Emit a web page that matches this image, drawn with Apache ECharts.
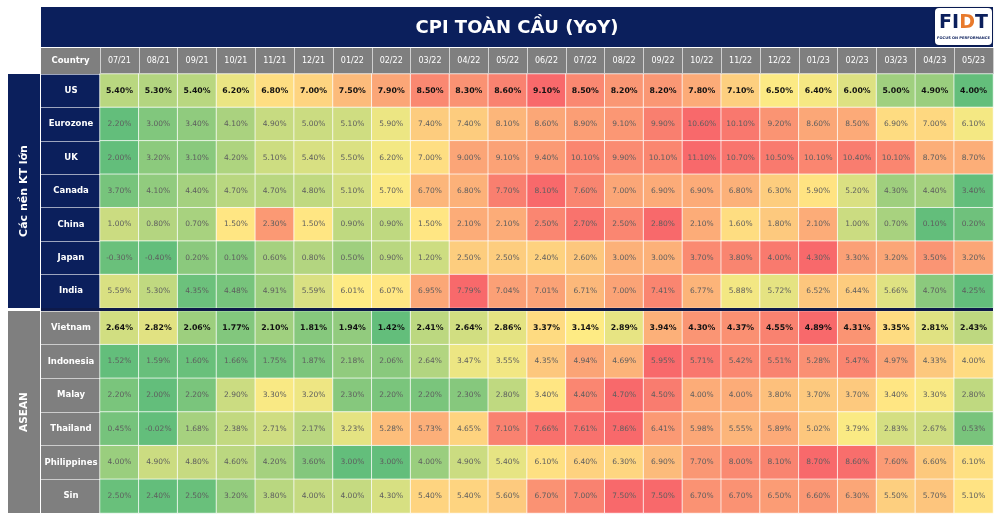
<!DOCTYPE html>
<html>
<head>
<meta charset="utf-8">
<script src="https://cdn.jsdelivr.net/npm/echarts@6/dist/echarts.min.js"></script>
<style>
html,body{margin:0;padding:0;background:#fff;}
#chart{width:1000px;height:521px;}
</style>
</head>
<body>
<div id="chart"></div>
<script>
const months = ['07/21','08/21','09/21','10/21','11/21','12/21','01/22','02/22','03/22','04/22','05/22','06/22','07/22','08/22','09/22','10/22','11/22','12/22','01/23','02/23','03/23','04/23','05/23'];

const majorCountries = ['US','Eurozone','UK','Canada','China','Japan','India'];
const aseanCountries = ['Vietnam','Indonesia','Malay','Thailand','Philippines','Sin'];

const us        = [5.40,5.30,5.40,6.20,6.80,7.00,7.50,7.90,8.50,8.30,8.60,9.10,8.50,8.20,8.20,7.80,7.10,6.50,6.40,6.00,5.00,4.90,4.00];
const eurozone  = [2.20,3.00,3.40,4.10,4.90,5.00,5.10,5.90,7.40,7.40,8.10,8.60,8.90,9.10,9.90,10.60,10.10,9.20,8.60,8.50,6.90,7.00,6.10];
const uk        = [2.00,3.20,3.10,4.20,5.10,5.40,5.50,6.20,7.00,9.00,9.10,9.40,10.10,9.90,10.10,11.10,10.70,10.50,10.10,10.40,10.10,8.70,8.70];
const canada    = [3.70,4.10,4.40,4.70,4.70,4.80,5.10,5.70,6.70,6.80,7.70,8.10,7.60,7.00,6.90,6.90,6.80,6.30,5.90,5.20,4.30,4.40,3.40];
const china     = [1.00,0.80,0.70,1.50,2.30,1.50,0.90,0.90,1.50,2.10,2.10,2.50,2.70,2.50,2.80,2.10,1.60,1.80,2.10,1.00,0.70,0.10,0.20];
const japan     = [-0.30,-0.40,0.20,0.10,0.60,0.80,0.50,0.90,1.20,2.50,2.50,2.40,2.60,3.00,3.00,3.70,3.80,4.00,4.30,3.30,3.20,3.50,3.20];
const india     = [5.59,5.30,4.35,4.48,4.91,5.59,6.01,6.07,6.95,7.79,7.04,7.01,6.71,7.00,7.41,6.77,5.88,5.72,6.52,6.44,5.66,4.70,4.25];

const vietnam     = [2.64,2.82,2.06,1.77,2.10,1.81,1.94,1.42,2.41,2.64,2.86,3.37,3.14,2.89,3.94,4.30,4.37,4.55,4.89,4.31,3.35,2.81,2.43];
const indonesia   = [1.52,1.59,1.60,1.66,1.75,1.87,2.18,2.06,2.64,3.47,3.55,4.35,4.94,4.69,5.95,5.71,5.42,5.51,5.28,5.47,4.97,4.33,4.00];
const malay       = [2.20,2.00,2.20,2.90,3.30,3.20,2.30,2.20,2.20,2.30,2.80,3.40,4.40,4.70,4.50,4.00,4.00,3.80,3.70,3.70,3.40,3.30,2.80];
const thailand    = [0.45,-0.02,1.68,2.38,2.71,2.17,3.23,5.28,5.73,4.65,7.10,7.66,7.61,7.86,6.41,5.98,5.55,5.89,5.02,3.79,2.83,2.67,0.53];
const philippines = [4.00,4.90,4.80,4.60,4.20,3.60,3.00,3.00,4.00,4.90,5.40,6.10,6.40,6.30,6.90,7.70,8.00,8.10,8.70,8.60,7.60,6.60,6.10];
const sin         = [2.50,2.40,2.50,3.20,3.80,4.00,4.00,4.30,5.40,5.40,5.60,6.70,7.00,7.50,7.50,6.70,6.70,6.50,6.60,6.30,5.50,5.70,5.10];

const majorRows = [us, eurozone, uk, canada, china, japan, india];
const aseanRows = [vietnam, indonesia, malay, thailand, philippines, sin];

const NAVY = '#0b1f5c';
const GRAY = '#7f7f7f';
const FONT = 'DejaVu Sans';

const boldLabel = {fontWeight:'bold', color:'#111', fontSize:7.8};
const normLabel = {fontWeight:'normal', color:'#5e5e5e', fontSize:7.5};

function buildData(rows){
  const out = [];
  rows.forEach((row, r) => {
    const mn = Math.min(...row), mx = Math.max(...row);
    row.forEach((v, c) => {
      out.push({value:[c, r, (v - mn) / (mx - mn), v], label: r === 0 ? boldLabel : normLabel});
    });
  });
  return out;
}

const chart = echarts.init(document.getElementById('chart'), null, {renderer:'canvas'});

const seriesBase = {
  type:'heatmap',
  label:{show:true, fontFamily:FONT, formatter: p => p.value[3].toFixed(2) + '%'},
  itemStyle:{borderColor:'rgba(255,255,255,0.75)', borderWidth:1},
  emphasis:{disabled:true}
};

const yAxisBase = {
  type:'category', inverse:true,
  axisLine:{show:false},
  axisTick:{show:true, length:59, lineStyle:{color:'rgba(255,255,255,0.6)', width:1}},
  axisLabel:{color:'#fff', fontWeight:'bold', fontSize:8.5, fontFamily:FONT, align:'center', margin:29},
  splitLine:{show:false}, z:10
};

chart.setOption({
  animation:false,
  backgroundColor:'#fff',
  grid:[
    {left:100, top:74, width:893, height:234},
    {left:100, top:311, width:893, height:202}
  ],
  xAxis:[
    {type:'category', data:months, gridIndex:0, position:'top',
     axisLine:{show:false},
     axisTick:{show:true, length:26, lineStyle:{color:'#d0d0d0', width:1}},
     axisLabel:{color:'#fff', fontSize:8, fontFamily:FONT, margin:9},
     splitLine:{show:false}, z:10},
    {type:'category', data:months, gridIndex:1, show:false}
  ],
  yAxis:[
    Object.assign({}, yAxisBase, {data:majorCountries, gridIndex:0}),
    Object.assign({}, yAxisBase, {data:aseanCountries, gridIndex:1})
  ],
  visualMap:{
    type:'continuous', show:false, dimension:2, min:0, max:1, seriesIndex:[0,1],
    inRange:{color:['#63BE7B','#FFEB84','#F8696B']}
  },
  series:[
    Object.assign({}, seriesBase, {xAxisIndex:0, yAxisIndex:0, data:buildData(majorRows)}),
    Object.assign({}, seriesBase, {xAxisIndex:1, yAxisIndex:1, data:buildData(aseanRows)})
  ],
  graphic:[
    {type:'rect', z:0, shape:{x:41, y:7, width:952, height:40}, style:{fill:NAVY}},
    {type:'text', z:20, x:517, y:28, style:{text:'CPI TOÀN CẦU (YoY)', fill:'#fff', font:'bold 18px "DejaVu Sans"', textAlign:'center', textVerticalAlign:'middle'}},
    {type:'rect', z:0, shape:{x:41, y:48, width:952, height:26}, style:{fill:GRAY}},
    {type:'text', z:20, x:70.5, y:61, style:{text:'Country', fill:'#fff', font:'bold 8.5px "DejaVu Sans"', textAlign:'center', textVerticalAlign:'middle'}},
    {type:'rect', z:0, shape:{x:41, y:74, width:59, height:234}, style:{fill:NAVY}},
    {type:'rect', z:0, shape:{x:41, y:311, width:59, height:202}, style:{fill:GRAY}},
    {type:'rect', z:0, shape:{x:8, y:74, width:32, height:234}, style:{fill:NAVY}},
    {type:'rect', z:0, shape:{x:8, y:311, width:32, height:202}, style:{fill:GRAY}},
    {type:'text', z:20, x:24, y:191, rotation:Math.PI/2, style:{text:'Các nền KT lớn', fill:'#fff', font:'bold 11px "DejaVu Sans"', textAlign:'center', textVerticalAlign:'middle'}},
    {type:'text', z:20, x:24, y:412, rotation:Math.PI/2, style:{text:'ASEAN', fill:'#fff', font:'bold 10.5px "DejaVu Sans"', textAlign:'center', textVerticalAlign:'middle'}},
    {type:'rect', z:20, shape:{x:41, y:308, width:952, height:3}, style:{fill:'#0e1a4a'}},
    {type:'rect', z:20, shape:{x:935, y:8, width:57, height:37, r:4}, style:{fill:'#fff', shadowBlur:3, shadowColor:'rgba(0,0,0,0.3)'}},
    {type:'text', z:21, x:963.5, y:23, style:{
      text:'{n|FI}{o|D}{n|T}', textAlign:'center', textVerticalAlign:'middle',
      rich:{n:{fill:NAVY, font:'bold 19px "DejaVu Sans"'}, o:{fill:'#e87a2c', font:'bold 19px "DejaVu Sans"'}}
    }},
    {type:'text', z:21, x:963.5, y:38, style:{text:'FOCUS ON PERFORMANCE', fill:NAVY, font:'bold 3.6px "DejaVu Sans"', textAlign:'center', textVerticalAlign:'middle'}}
  ]
});
</script>
</body>
</html>
